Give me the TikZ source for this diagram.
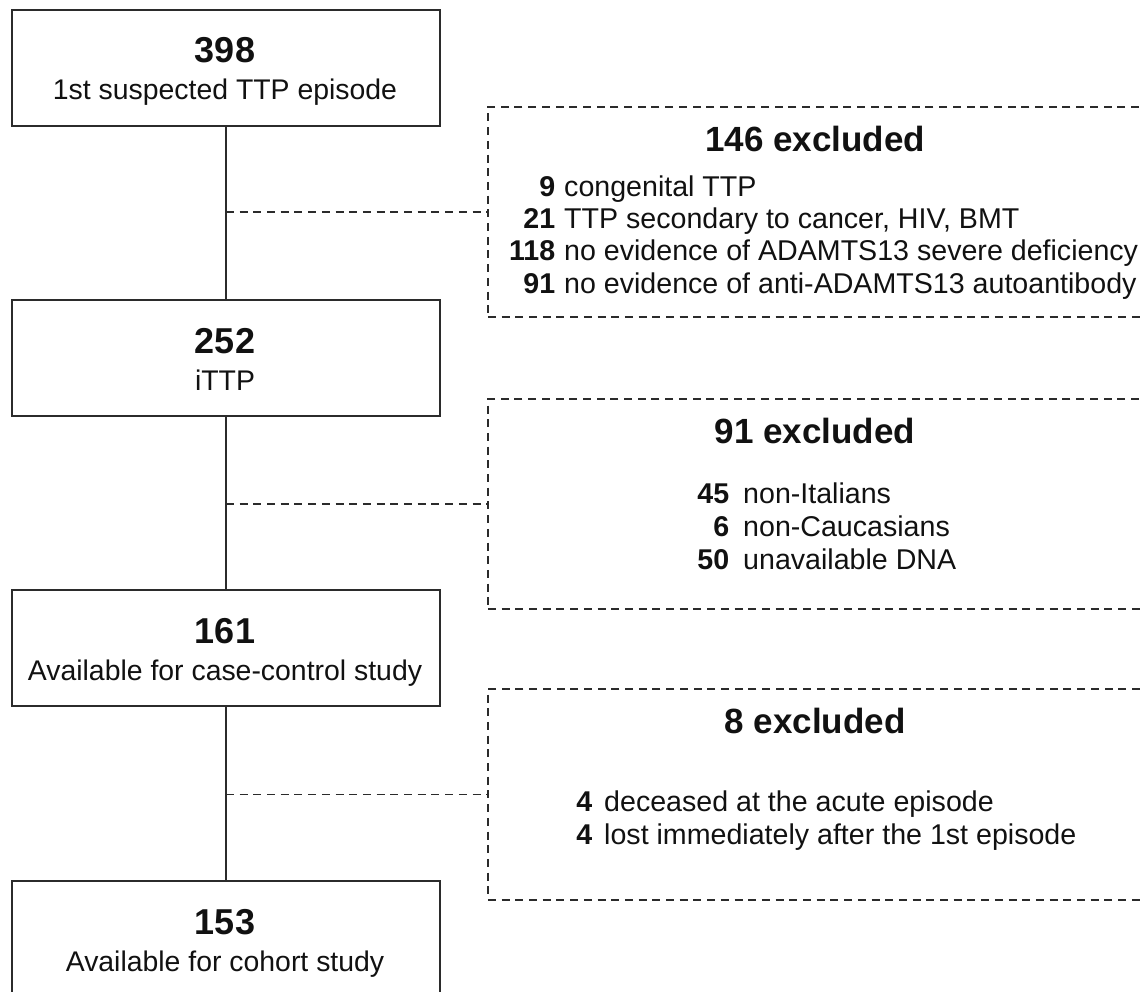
\documentclass[tikz,border=0pt]{standalone}
\usepackage{fontspec}
\setmainfont{Liberation Sans}
\definecolor{linecol}{HTML}{2B2B2B}
\definecolor{txtcol}{HTML}{111111}
\begin{document}
\begin{tikzpicture}[x=1pt,y=-1pt,
  stagebox/.style={draw=linecol, line width=1.8pt, minimum width=428pt, minimum height=116pt, inner sep=0pt, anchor=north west},
  exbox/.style={draw=linecol, line width=1.8pt, dash pattern=on 8pt off 5.7pt, minimum width=700pt, inner sep=0pt, anchor=north west},
  conn/.style={draw=linecol, line width=1.8pt},
  dconn/.style={draw=linecol, line width=1.8pt, dash pattern=on 8pt off 5.7pt},
  bignum/.style={anchor=base, inner sep=0pt, text=txtcol, font=\fontsize{36}{40}\selectfont\bfseries},
  lbl/.style={anchor=base, inner sep=0pt, text=txtcol, font=\fontsize{28.4}{32}\selectfont},
  head/.style={anchor=base, inner sep=0pt, text=txtcol, font=\fontsize{35}{40}\selectfont\bfseries},
  itm/.style={anchor=base west, inner sep=0pt, text=txtcol, font=\fontsize{28.6}{32}\selectfont}
]
\useasboundingbox (0,0) rectangle (1145,992);
\clip (0,0) rectangle (1145,992);

% stage boxes
\node[stagebox] (b1) at (11,9) {};
\node[stagebox] (b2) at (11,299) {};
\node[stagebox] (b3) at (11,589) {};
\node[stagebox] (b4) at (11,880) {};

\node[bignum] (n1) at (225,63) {398};
\node[lbl] (l1) at (225,100) {1st suspected TTP episode};
\node[bignum] (n2) at (225,353) {252};
\node[lbl] (l2) at (225,390) {iTTP};
\node[bignum] (n3) at (225,643) {161};
\node[lbl] (l3) at (225,680) {Available for case-control study};
\node[bignum] (n4) at (225,934) {153};
\node[lbl] (l4) at (225,971) {Available for cohort study};

% exclusion boxes
\node[exbox, minimum height=210pt] (eA) at (487,106) {};
\node[exbox, minimum height=210pt] (eB) at (487,398) {};
\node[exbox, minimum height=211pt] (eC) at (487,688) {};

\node[head] (hA) at (815,152) {146 excluded};
\node[itm] (a1) at (499,197) {\makebox[56pt][r]{\bfseries 9}\hspace{9pt}congenital TTP};
\node[itm] (a2) at (499,229) {\makebox[56pt][r]{\bfseries 21}\hspace{9pt}TTP secondary to cancer, HIV, BMT};
\node[itm] (a3) at (499,261) {\makebox[56pt][r]{\bfseries 118}\hspace{9pt}no evidence of ADAMTS13 severe deficiency};
\node[itm] (a4) at (499,293) {\makebox[56pt][r]{\bfseries 91}\hspace{9pt}no evidence of anti-ADAMTS13 autoantibody};

\node[head] (hB) at (815,443) {91 excluded};
\node[itm] (bb1) at (673,503) {\makebox[56pt][r]{\bfseries 45}\hspace{14pt}non-Italians};
\node[itm] (bb2) at (673,536) {\makebox[56pt][r]{\bfseries 6}\hspace{14pt}non-Caucasians};
\node[itm] (bb3) at (673,569) {\makebox[56pt][r]{\bfseries 50}\hspace{14pt}unavailable DNA};

\node[head] (hC) at (815,733) {8 excluded};
\node[itm] (c1) at (536,811) {\makebox[56pt][r]{\bfseries 4}\hspace{12pt}deceased at the acute episode};
\node[itm] (c2) at (536,844) {\makebox[56pt][r]{\bfseries 4}\hspace{12pt}lost immediately after the 1st episode};

% connectors
\draw[conn] (b1.south) -- (b2.north);
\draw[conn] (b2.south) -- (b3.north);
\draw[conn] (b3.south) -- (b4.north);
\coordinate (jA) at (b1.south |- eA.west);
\coordinate (jB) at (b2.south |- eB.west);
\coordinate (jC) at (b3.south |- eC.west);
\draw[dconn] (jA) -- (eA.west);
\draw[dconn] (jB) -- (eB.west);
\draw[dconn] (jC) -- (eC.west);
\end{tikzpicture}
\end{document}
